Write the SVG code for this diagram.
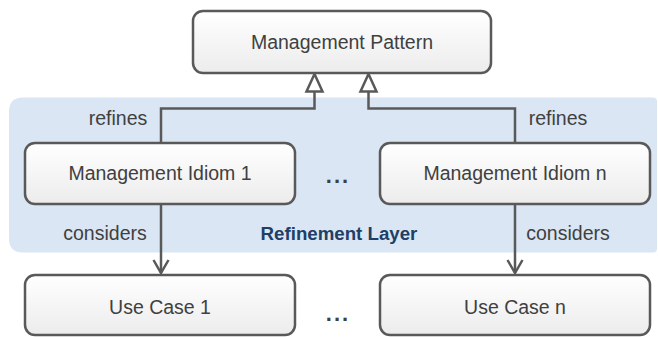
<svg xmlns="http://www.w3.org/2000/svg" width="658" height="337" viewBox="0 0 658 337">
<defs>
<linearGradient id="boxfill" x1="0" y1="0" x2="0" y2="1">
<stop offset="0" stop-color="#ffffff"/>
<stop offset="1" stop-color="#ececec"/>
</linearGradient>
</defs>
<style>
.box{fill:url(#boxfill);stroke:#595959;stroke-width:2.5}
.lbl{font-family:"Liberation Sans",Arial,sans-serif;font-size:19.5px;fill:#404040;text-anchor:middle}
.edge{fill:none;stroke:#595959;stroke-width:2.5}
.head{fill:#ffffff;stroke:#595959;stroke-width:2.5;stroke-linejoin:miter}
.dots{font-family:"Liberation Sans",Arial,sans-serif;font-size:22px;font-weight:bold;fill:#404040;text-anchor:middle;letter-spacing:2px}
</style>
<g id="refinement-layer">
<path d="M23,97.5 H653 Q657,97.5 657,101.5 V248.5 Q657,252.5 653,252.5 H23 Q9,252.5 9,238.5 V111.5 Q9,97.5 23,97.5 Z" fill="#dae6f4"/>
<text x="339" y="240" style="font-family:'Liberation Sans',Arial,sans-serif;font-size:18.7px;font-weight:bold;fill:#203e66;text-anchor:middle">Refinement Layer</text>
</g>
<g id="connectors">
<path class="edge" d="M161,143 V108.5 H314.5 V91"/>
<path class="head" d="M314.5,74 L306.5,91.5 H322.5 Z"/>
<path class="edge" d="M515,143 V108.5 H368.5 V91"/>
<path class="head" d="M368.5,74 L360.5,91.5 H376.5 Z"/>
<path class="edge" d="M161,204 V273"/>
<path class="edge" d="M153.5,260 L161,273 L168.5,260"/>
<path class="edge" d="M515,204 V273"/>
<path class="edge" d="M507.5,260 L515,273 L522.5,260"/>
<text class="lbl" x="118" y="125">refines</text>
<text class="lbl" x="558" y="125">refines</text>
<text class="lbl" x="105" y="240">considers</text>
<text class="lbl" x="568" y="240">considers</text>
</g>
<g id="management-pattern">
<rect class="box" x="193" y="11" width="298" height="62" rx="10"/>
<text class="lbl" x="342" y="49">Management Pattern</text>
</g>
<g id="management-idiom-1">
<rect class="box" x="25" y="143" width="270" height="61" rx="10"/>
<text class="lbl" x="160" y="180">Management Idiom 1</text>
</g>
<g id="idiom-dots">
<text class="dots" x="338" y="183">...</text>
</g>
<g id="management-idiom-n">
<rect class="box" x="380" y="143" width="270" height="61" rx="10"/>
<text class="lbl" x="515" y="180">Management Idiom n</text>
</g>
<g id="use-case-1">
<rect class="box" x="25" y="275" width="270" height="60" rx="10"/>
<text class="lbl" x="160" y="314">Use Case 1</text>
</g>
<g id="usecase-dots">
<text class="dots" x="338" y="321">...</text>
</g>
<g id="use-case-n">
<rect class="box" x="380" y="275" width="270" height="60" rx="10"/>
<text class="lbl" x="515" y="314">Use Case n</text>
</g>
</svg>
